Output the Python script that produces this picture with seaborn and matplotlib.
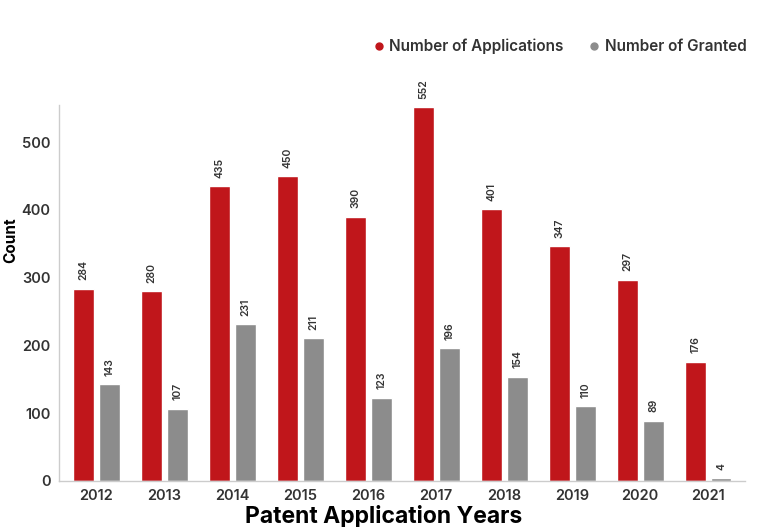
import numpy as np
import pandas as pd
import matplotlib
matplotlib.use("Agg")
import matplotlib.pyplot as plt
from matplotlib.lines import Line2D
import seaborn as sns

## Chart data
years = ["2012", "2013", "2014", "2015", "2016", "2017", "2018", "2019", "2020", "2021"]
applications = [284, 280, 435, 450, 390, 552, 401, 347, 297, 176]
granted = [143, 107, 231, 211, 123, 196, 154, 110, 89, 4]
series_names = ["Number of Applications", "Number of Granted"]

df = pd.DataFrame({
    "Year": years * 2,
    "Count": applications + granted,
    "Series": [series_names[0]] * len(years) + [series_names[1]] * len(years),
})

sns.set_theme(style="white")
plt.rcParams["font.family"] = ["Inter", "DejaVu Sans"]

red = "#c0161b"
grey = "#8c8c8c"
text_col = "#333333"

fig = plt.figure(figsize=(7.68, 5.27), dpi=100)
ax = fig.add_axes([0.0768, 0.0873, 0.893, 0.7135])

sns.barplot(data=df, x="Year", y="Count", hue="Series", order=years,
            hue_order=series_names, palette=[red, grey], width=0.76, gap=0.19,
            saturation=1, legend=False, ax=ax)

## value labels, rotated, above each bar
for cont in ax.containers:
    ax.bar_label(cont, padding=6, rotation=90, fontsize=7.5, color=text_col,
                 fontweight="semibold")

ax.set_xlim(-0.55, 9.54)
ax.set_ylim(0, 555)
ax.set_yticks([0, 100, 200, 300, 400, 500])

for s in ["top", "right"]:
    ax.spines[s].set_visible(False)
for s in ["left", "bottom"]:
    ax.spines[s].set_color("#cccccc")
    ax.spines[s].set_linewidth(1.0)

ax.tick_params(axis="both", labelsize=10.5, colors=text_col, length=0, pad=6)
for lbl in ax.get_xticklabels() + ax.get_yticklabels():
    lbl.set_fontweight("semibold")

ax.set_ylabel("Count", fontsize=11, fontweight="bold", color="black")
ax.yaxis.set_label_coords(-0.06, 0.64)
ax.set_xlabel("Patent Application Years", fontsize=16.5, fontweight="bold",
              color="black")
ax.xaxis.set_label_coords(0.474, -0.065)

handles = [Line2D([], [], marker="o", linestyle="", markersize=5, color=c)
           for c in [red, grey]]
fig.legend(handles, series_names, loc="center right", bbox_to_anchor=(0.99, 0.912),
           ncol=2, frameon=False, handletextpad=-0.3, columnspacing=1.0,
           prop={"size": 11, "weight": "semibold"}, labelcolor=text_col)

fig.savefig("out.png", dpi=100)
